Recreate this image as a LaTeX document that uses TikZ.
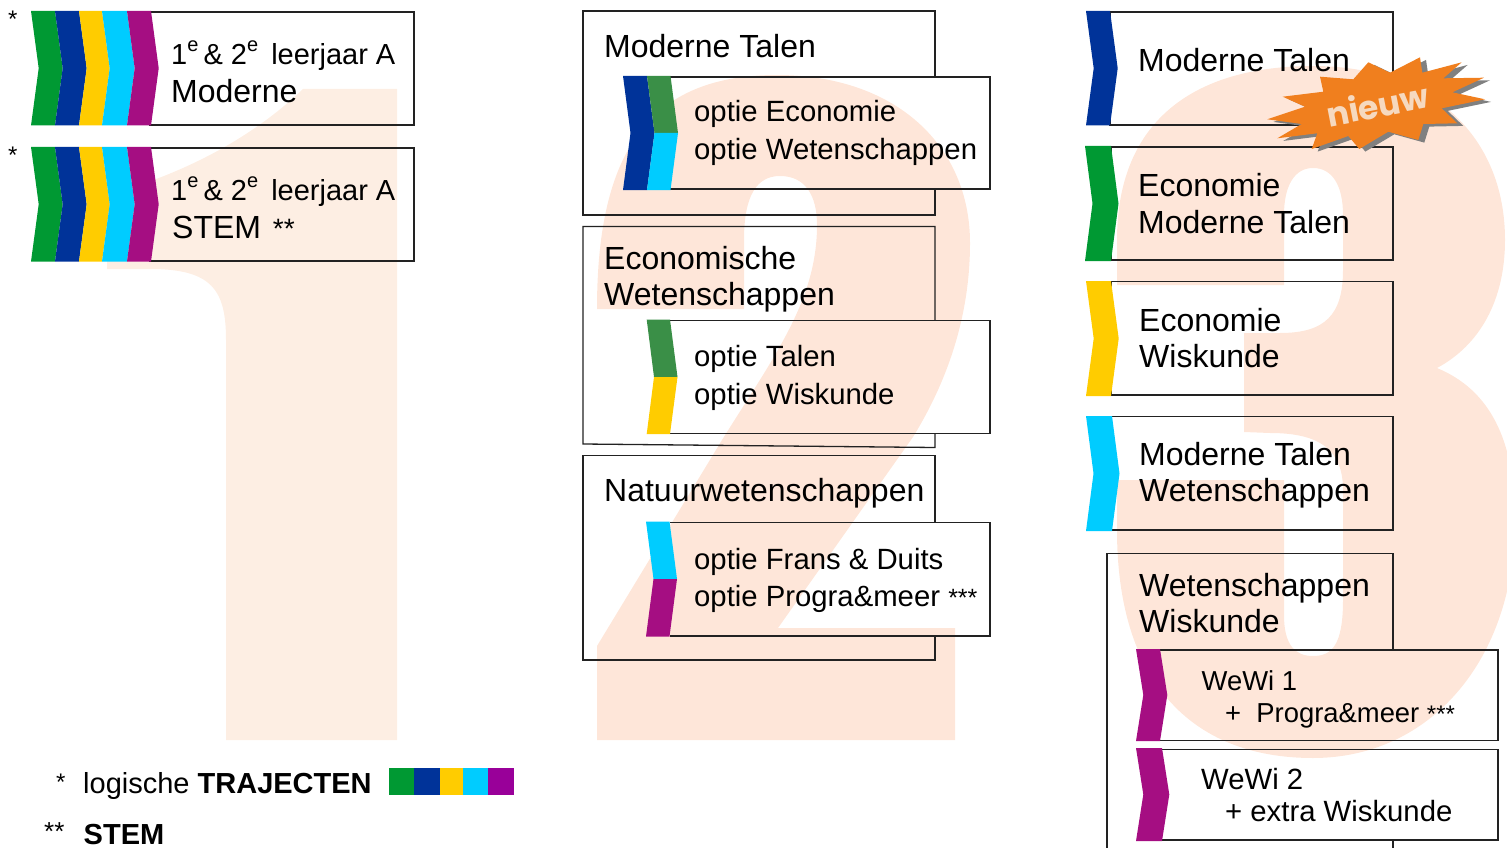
\documentclass[tikz,border=0pt]{standalone}
\usepackage{fontspec}
\setmainfont{Liberation Sans}
\newfontfamily\burstfont{Poppins}[BoldFont={* Bold}]
\definecolor{cgreen}{HTML}{009933}
\definecolor{cblue}{HTML}{003399}
\definecolor{cyellow}{HTML}{FFCC00}
\definecolor{ccyan}{HTML}{00CCFF}
\definecolor{cpurple}{HTML}{A50E82}
\definecolor{lpurple}{HTML}{990099}
\definecolor{cmoss}{HTML}{3A8F47}
\definecolor{digitA}{HTML}{FDEEE3}
\definecolor{digitB}{HTML}{FEE6D9}
\definecolor{line}{HTML}{222222}
\definecolor{burst}{HTML}{F07F1E}
\definecolor{burstshade}{HTML}{808080}
\definecolor{bursttext}{HTML}{F6D9BF}
\tikzset{
  frame/.style={draw=line,line width=1.3pt},
  tx/.style 2 args={anchor=base west,align=left,inner sep=0pt,text=black,font=\fontsize{#1}{#2}\selectfont},
}
% chevron: colour, xleft, xright, ytop, ybottom, depth
\newcommand\chevbar[6]{\fill[#1] (#2,#4) -- (#3,#4) -- ({#3+#6},{(#4+#5)/2}) -- (#3,#5) -- (#2,#5) -- ({#2+#6},{(#4+#5)/2}) -- cycle;}
\newcommand\supe{\raisebox{12.5pt}{\fontsize{20}{20}\selectfont e}}
\newcommand\stars[2]{{\fontsize{#1}{#1}\selectfont #2}}
\newcommand\burstpath{(1267.3,119.3) -- (1305,106.7) -- (1282.7,96.7) -- (1323.3,91.7) -- (1320,76.7) -- (1353.3,79.3) -- (1368.3,62.3) -- (1390,72.7) -- (1420,57.3) -- (1422.3,72.7) -- (1461.7,62.3) -- (1443.3,78.3) -- (1484,77.7) -- (1452.3,92.3) -- (1485,99.3) -- (1441.7,108.3) -- (1457.3,123.3) -- (1423.3,124) -- (1418.3,140) -- (1388.3,131.7) -- (1359.3,149) -- (1348.3,136) -- (1311.7,149) -- (1317.3,133.3) -- (1277.3,138.3) -- (1301.7,124) -- cycle}
\begin{document}
\begin{tikzpicture}[x=1pt,y=-1pt]
\useasboundingbox (0,0) rectangle (1507,848);
\clip (0,0) rectangle (1507,848);
% big digits
\fill[digitA] (397,89) -- (397,740) -- (226,740) -- (226,340) .. controls (226,290) and (212,269) .. (150,269) -- (107,269) -- (107,195) .. controls (180,175) and (250,140) .. (303,89) -- cycle;
\fill[digitB] (597,309) .. controls (597,150) and (650,75) .. (777,75) .. controls (895,75) and (970,145) .. (970,243) .. controls (970,320) and (945,385) .. (913,437) -- (778,628) -- (955,628) -- (955,740) -- (597,740) -- (597,646) -- (722,440) .. controls (775,355) and (817,300) .. (817,225) .. controls (817,195) and (805,176) .. (780,176) .. controls (757,176) and (744,195) .. (744,240) -- (744,309) -- cycle;
\fill[digitB] (1117,285) -- (1117,240) .. controls (1117,120) and (1195,66) .. (1313,66) .. controls (1430,66) and (1505,135) .. (1505,240) .. controls (1505,300) and (1480,345) .. (1437,368) .. controls (1490,390) and (1515,440) .. (1515,520) .. controls (1515,660) and (1430,758) .. (1313,758) .. controls (1190,758) and (1117,680) .. (1117,530) -- (1117,480) -- (1284,480) -- (1284,615) .. controls (1284,645) and (1295,656) .. (1313,656) .. controls (1332,656) and (1343,645) .. (1343,600) -- (1343,490) .. controls (1343,450) and (1320,433) .. (1270,433) -- (1244,432) -- (1244,333) -- (1280,333) .. controls (1325,333) and (1343,315) .. (1343,270) -- (1343,215) .. controls (1343,185) and (1332,168) .. (1313,168) .. controls (1295,168) and (1284,185) .. (1284,215) -- (1284,285) -- cycle;

% column 1
\draw[frame] (150,12) rectangle (414,125);
\draw[frame] (150,148) rectangle (414,261);
\foreach \t/\b in {11/125.5,147/261.5}{
  \chevbar{cgreen}{31}{55}{\t}{\b}{7.7}
  \chevbar{cblue}{55}{79}{\t}{\b}{7.7}
  \chevbar{cyellow}{79}{102}{\t}{\b}{7.7}
  \chevbar{ccyan}{102}{127}{\t}{\b}{7.7}
  \chevbar{cpurple}{127}{151}{\t}{\b}{7.7}
}
\node[tx={24}{24}] (s1) at (8,28) {*};
\node[tx={24}{24}] (s2) at (8,164) {*};
\node[tx={29}{38}] (y1) at (171,64.5) {1\supe{}\kern-3pt{} \& 2\supe{}\kern-3pt{}\ \ leerjaar A};
\node[tx={32}{36}] (m1) at (171,103) {Moderne};
\node[tx={29}{38}] (y2) at (171,200) {1\supe{}\kern-3pt{} \& 2\supe{}\kern-3pt{}\ \ leerjaar A};
\node[tx={32}{36}] (m2) at (172,238) {STEM\ \kern3pt\stars{28}{**}};

% column 2
\draw[frame] (935,76) -- (935,11) -- (583,11) -- (583,215) -- (935,215) -- (935,190);
\draw[frame] (670,77) -- (990,77) -- (990,189) -- (670,189);
\chevbar{cblue}{623}{647}{76}{190}{7.5}
\fill[cmoss] (647,76) -- (670.5,76) -- (678,133) -- (654.5,133) -- cycle;
\fill[ccyan] (654.5,133) -- (678,133) -- (670.5,190) -- (647,190) -- cycle;
\node[tx={32}{36}] (b1) at (604,57.5) {Moderne Talen};
\node[tx={29.3}{38}] (b1o) at (694,160) {optie Economie\\optie Wetenschappen};

\draw[frame] (935,320) -- (935,226.5) -- (583,226.5) -- (583,444) -- (935,447.5) -- (935,434);
\draw[frame] (670,320.5) -- (990,320.5) -- (990,433.5) -- (670,433.5);
\fill[cmoss] (646.7,319.5) -- (670,319.5) -- (677.5,377) -- (654,377) -- cycle;
\fill[cyellow] (654,377) -- (677.5,377) -- (670,434) -- (646.7,434) -- cycle;
\node[tx={32}{36}] (b2) at (604,305) {Economische\\Wetenschappen};
\node[tx={29.3}{38}] (b2o) at (694,404) {optie Talen\\optie Wiskunde};

\draw[frame] (935,522) -- (935,455.5) -- (583,455.5) -- (583,660) -- (935,660) -- (935,636);
\draw[frame] (669.5,522.5) -- (990,522.5) -- (990,636) -- (669.5,636);
\fill[ccyan] (646,521.5) -- (669.5,521.5) -- (677,579) -- (653.5,579) -- cycle;
\fill[cpurple] (653.5,579) -- (677,579) -- (669.5,636.5) -- (646,636.5) -- cycle;
\node[tx={32}{36}] (b3) at (604,501) {Natuurwetenschappen};
\node[tx={29.3}{37}] (b3o) at (694,606) {optie Frans \& Duits\\optie Progra\&meer \stars{25}{***}};

% column 3
\draw[frame] (1110,12) rectangle (1393,125);
\draw[frame] (1111,147) rectangle (1393,260);
\draw[frame] (1111,281.5) rectangle (1393,395);
\draw[frame] (1111,416.5) rectangle (1393,530);
\chevbar{cblue}{1086}{1110}{11}{125.5}{7.7}
\chevbar{cgreen}{1085}{1111}{146}{261}{7.5}
\chevbar{cyellow}{1086}{1111}{281}{396}{7.7}
\chevbar{ccyan}{1086}{1112}{416}{531}{7.5}
\node[tx={32}{36}] (c1) at (1138,71.5) {Moderne Talen};
\node[tx={32}{36}] (c2) at (1138,233) {Economie\\Moderne Talen};
\node[tx={32}{36}] (c3) at (1139,367) {Economie\\Wiskunde};
\node[tx={32}{36}] (c4) at (1139,501) {Moderne Talen\\Wetenschappen};
\draw[frame] (1393,649) -- (1393,553.5) -- (1107,553.5) -- (1107,850);
\draw[frame] (1393,841) -- (1393,850);
\node[tx={32}{36}] (c5) at (1139,632) {Wetenschappen\\Wiskunde};
\draw[frame] (1160,650) -- (1498,650) -- (1498,740.5) -- (1160,740.5);
\chevbar{cpurple}{1136}{1160}{649}{741}{7.3}
\node[tx={27.4}{32}] (c6) at (1201.5,690) {WeWi 1};
\node[tx={27.4}{32}] (c6b) at (1225,722) {+\ \ Progra\&meer \stars{24}{***}};
\draw[frame] (1162,749.5) -- (1498,749.5) -- (1498,840) -- (1162,840);
\chevbar{cpurple}{1136}{1162}{748}{841}{7.3}
\node[tx={29.3}{32}] (c7) at (1201,789) {WeWi 2};
\node[tx={29.3}{32}] (c7b) at (1225,821) {+ extra Wiskunde};

% burst
\fill[burstshade,shift={(6,2.6)}] \burstpath;
\fill[burst] \burstpath;
\node[inner sep=0pt,rotate=11,text=bursttext,font=\burstfont\bfseries\fontsize{33}{33}\selectfont] (nw) at (1377.5,104.5) {nieuw};

% legend
\node[tx={24}{24}] (l1) at (56,790) {*};
\node[tx={29}{34}] (l2) at (83,793) {logische \textbf{TRAJECTEN}};
\node[tx={26}{26}] (l3) at (44,840) {**};
\node[tx={29}{34}] (l4) at (83.5,844) {\textbf{STEM}};
\fill[cgreen] (389,768) rectangle (414,795);
\fill[cblue] (414,768) rectangle (440,795);
\fill[cyellow] (440,768) rectangle (463,795);
\fill[ccyan] (463,768) rectangle (488,795);
\fill[lpurple] (488,768) rectangle (514,795);
\end{tikzpicture}
\end{document}
